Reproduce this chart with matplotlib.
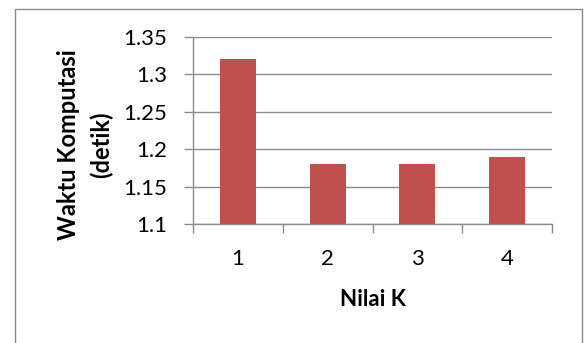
import matplotlib
matplotlib.use("Agg")
import matplotlib.pyplot as plt
from matplotlib.patches import Rectangle

categories = ["1", "2", "3", "4"]
waktu = [1.32, 1.18, 1.18, 1.19]
y_ticks = [1.1, 1.15, 1.2, 1.25, 1.3, 1.35]
y_tick_labels = ["1.1", "1.15", "1.2", "1.25", "1.3", "1.35"]

plt.rcParams["font.family"] = ["Lato", "DejaVu Sans"]
FS = 16
GRAY = "#8c8c8c"

W, H = 584, 343
fig = plt.figure(figsize=(W / 100, H / 100), dpi=100)

# chart frame (bottom edge runs off the canvas)
fig.patches.append(Rectangle((14.5 / W, -0.02), (582 - 14.5) / W, (H - 8.5) / H + 0.02,
                             transform=fig.transFigure, fill=False,
                             edgecolor=GRAY, linewidth=1.0))

left, right, top, bottom = 193, 552, 37, 224
ax = fig.add_axes([left / W, 1 - bottom / H, (right - left) / W, (bottom - top) / H])
ax.patch.set_alpha(0)

x = list(range(len(categories)))
ax.bar(x, [v - 1.1 for v in waktu], bottom=1.1, width=0.4, color="#C0504D", zorder=3)

ax.set_xlim(-0.5, len(categories) - 0.5)
ax.set_ylim(1.1, 1.35)
ax.set_yticks(y_ticks)
ax.set_yticklabels(y_tick_labels)
ax.yaxis.grid(True, color=GRAY, linewidth=1.0, zorder=0)

ax.set_xticks(x)
ax.set_xticklabels(categories)
ax.set_xticks([i - 0.5 for i in range(len(categories) + 1)], minor=True)
ax.tick_params(axis="x", which="major", length=0, pad=18, labelsize=FS)
ax.tick_params(axis="x", which="minor", length=6.5, width=1.0, color=GRAY)
ax.tick_params(axis="y", length=6.5, width=1.0, color=GRAY, pad=12, labelsize=FS)

for s in ["top", "right"]:
    ax.spines[s].set_visible(False)
for s in ["left", "bottom"]:
    ax.spines[s].set_color(GRAY)
    ax.spines[s].set_linewidth(1.0)

ax.set_xlabel("Nilai K", fontsize=FS, fontweight="bold")
ax.xaxis.label.set_va("center")
ax.xaxis.set_label_coords(0.5, (bottom - 300) / (bottom - top))

ax.set_ylabel("Waktu Komputasi\n(detik)", fontsize=FS + 1, fontweight="bold",
              linespacing=1.5)
ax.yaxis.label.set_va("center")
ax.yaxis.set_label_coords((85 - left) / (right - left), (bottom - 145) / (bottom - top))

fig.savefig("out.png", dpi=100)
